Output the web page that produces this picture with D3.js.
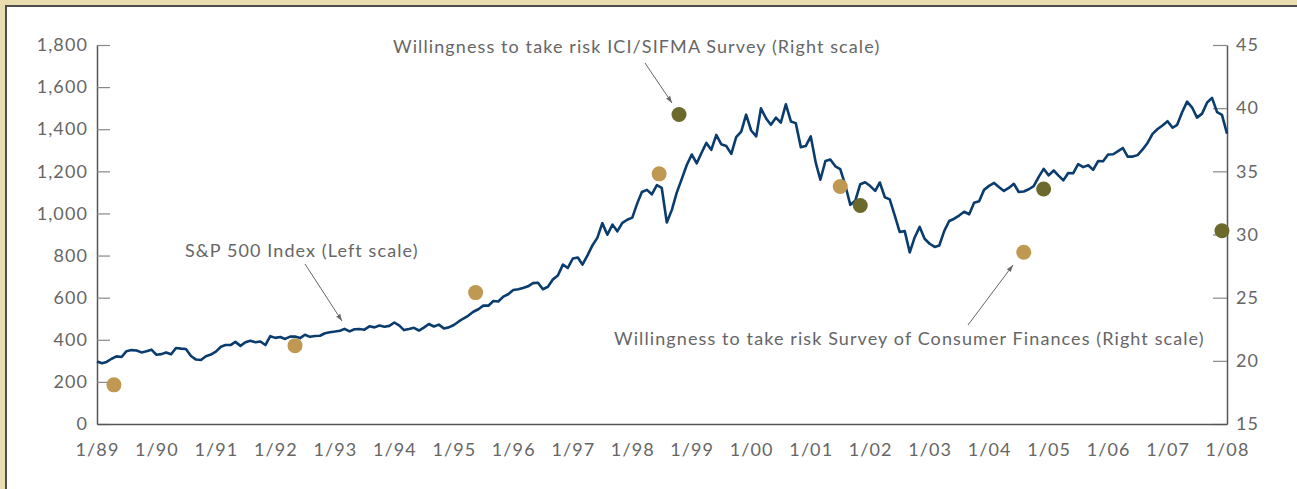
<!DOCTYPE html>
<html lang="en">
<head>
<meta charset="utf-8">
<script src="https://d3js.org/d3.v7.min.js"></script>
<style>
  body { margin: 0; background: #e9ddb0; }
  svg { display: block; }
  text { font-family: Lato, "Open Sans", sans-serif; fill: #666; letter-spacing: 1.1px; }
</style>
</head>
<body>
<script>

// S&P 500 month-end closes, Jan 1989 .. Jan 2008
var spx = [
  297, 289, 295, 310, 321, 318, 346, 351, 349, 340, 346, 353,
  329, 332, 340, 331, 361, 358, 356, 323, 306, 304, 322, 330,
  344, 367, 375, 375, 390, 371, 388, 395, 388, 392, 375, 417,
  409, 413, 404, 415, 415, 408, 424, 414, 418, 419, 431, 436,
  439, 443, 452, 440, 450, 451, 448, 464, 459, 468, 462, 466,
  482, 467, 446, 451, 457, 444, 458, 475, 463, 472, 454, 459,
  470, 487, 501, 515, 533, 545, 562, 562, 584, 582, 605, 616,
  636, 640, 646, 654, 669, 671, 640, 652, 687, 705, 757, 741,
  786, 791, 757, 801, 848, 885, 954, 899, 947, 915, 955, 970,
  980, 1049, 1102, 1112, 1091, 1134, 1121, 957, 1017, 1099, 1164, 1229,
  1280, 1238, 1286, 1335, 1302, 1373, 1329, 1320, 1283, 1363, 1389, 1469,
  1394, 1366, 1499, 1452, 1421, 1455, 1431, 1518, 1437, 1429, 1315, 1320,
  1366, 1240, 1160, 1249, 1256, 1224, 1211, 1134, 1041, 1060, 1139, 1148,
  1130, 1107, 1147, 1077, 1067, 990, 912, 916, 815, 886, 936, 880,
  856, 841, 848, 917, 964, 975, 990, 1008, 996, 1051, 1058, 1112,
  1131, 1145, 1126, 1107, 1121, 1141, 1102, 1104, 1115, 1130, 1174, 1212,
  1181, 1204, 1181, 1157, 1192, 1191, 1234, 1220, 1229, 1207, 1249, 1248,
  1280, 1281, 1295, 1311, 1270, 1270, 1277, 1304, 1336, 1378, 1401, 1418,
  1438, 1407, 1421, 1482, 1531, 1503, 1455, 1474, 1527, 1549, 1481, 1468,
  1379
];

// Survey of Consumer Finances (right scale)
var scfDates = ["1989-04-15", "1992-05-01", "1995-05-15", "1998-06-15", "2001-07-01", "2004-08-01"];
var scfValues = [18.1, 21.2, 25.4, 34.8, 33.8, 28.6];

// ICI/SIFMA survey (right scale)
var iciDates = ["1998-10-15", "2001-11-01", "2004-12-01", "2007-12-01"];
var iciValues = [39.5, 32.3, 33.6, 30.3];

var leftTicks = [0, 200, 400, 600, 800, 1000, 1200, 1400, 1600, 1800];
var rightTicks = [15, 20, 25, 30, 35, 40, 45];

var width = 1297, height = 489;
var plotLeft = 97, plotRight = 1227, plotTop = 45, plotBottom = 424;

var parseDay = d3.timeParse("%Y-%m-%d");
var spxData = spx.map(function(v, i) {
  return { date: new Date(1989, i, 1), value: v };
});

var svg = d3.select("body").append("svg")
  .attr("width", width)
  .attr("height", height);

// white panel with dark top/left rule
svg.append("rect")
  .attr("x", 5).attr("y", 5)
  .attr("width", width - 5).attr("height", height - 5)
  .attr("fill", "#fff");
svg.append("path")
  .attr("d", "M6," + height + "V6H" + width)
  .attr("fill", "none")
  .attr("stroke", "#4d4d4d")
  .attr("stroke-width", 2);

var x = d3.scaleTime()
  .domain([new Date(1989, 0, 1), new Date(2008, 0, 1)])
  .range([plotLeft, plotRight]);
var yL = d3.scaleLinear().domain([0, 1800]).range([plotBottom, plotTop]);
var yR = d3.scaleLinear().domain([15, 45]).range([plotBottom, plotTop]);

// axes
var axL = svg.append("g")
  .attr("transform", "translate(" + plotLeft + ",0)")
  .call(d3.axisLeft(yL).tickValues(leftTicks).tickFormat(d3.format(","))
    .tickSizeInner(-13).tickSizeOuter(0).tickPadding(9));
var axR = svg.append("g")
  .attr("transform", "translate(" + plotRight + ",0)")
  .call(d3.axisRight(yR).tickValues(rightTicks)
    .tickSizeInner(-14).tickSizeOuter(0).tickPadding(9));
var axB = svg.append("g")
  .attr("transform", "translate(0," + plotBottom + ")")
  .call(d3.axisBottom(x).ticks(d3.timeYear.every(1))
    .tickFormat(d3.timeFormat("1/%y"))
    .tickSize(0).tickPadding(19));

[axL, axR, axB].forEach(function(g) {
  g.selectAll("text").style("font-size", "18px").attr("fill", "#666")
    .style("font-family", "Lato, 'Open Sans', sans-serif");
  g.select(".domain").attr("stroke", "#555").attr("stroke-width", 1.5);
  g.selectAll(".tick line").attr("stroke", "#888").attr("stroke-width", 1.2);
});

// S&P line
var line = d3.line()
  .x(function(d) { return x(d.date); })
  .y(function(d) { return yL(d.value); });

svg.append("path")
  .datum(spxData)
  .attr("d", line)
  .attr("fill", "none")
  .attr("stroke", "#0b3c6e")
  .attr("stroke-width", 2.6)
  .attr("stroke-linejoin", "round");

// survey dots
svg.selectAll(".scf")
  .data(scfDates)
  .enter().append("circle")
  .attr("cx", function(d) { return x(parseDay(d)); })
  .attr("cy", function(d, i) { return yR(scfValues[i]); })
  .attr("r", 7.5)
  .attr("fill", "#bf9851");

svg.selectAll(".ici")
  .data(iciDates)
  .enter().append("circle")
  .attr("cx", function(d) { return x(parseDay(d)); })
  .attr("cy", function(d, i) { return yR(iciValues[i]); })
  .attr("r", 7.5)
  .attr("fill", "#6b6a2c");

// annotations
var defs = svg.append("defs");
defs.append("marker")
  .attr("id", "arr")
  .attr("viewBox", "0 0 10 10")
  .attr("refX", 10).attr("refY", 5)
  .attr("markerWidth", 7).attr("markerHeight", 7)
  .attr("orient", "auto")
  .append("path")
  .attr("d", "M0,1.5L10,5L0,8.5Z")
  .attr("fill", "#666");

var notes = [
  { text: "Willingness to take risk ICI/SIFMA Survey (Right scale)", tx: 393, ty: 53,
    from: [645, 63], to: [672, 103] },
  { text: "S&P 500 Index (Left scale)", tx: 185, ty: 257,
    from: [305, 264], to: [342, 321] },
  { text: "Willingness to take risk Survey of Consumer Finances (Right scale)", tx: 614, ty: 345,
    from: [968, 325], to: [1013, 265] }
];

notes.forEach(function(n) {
  svg.append("text")
    .attr("x", n.tx).attr("y", n.ty)
    .style("font-size", "18px")
    .text(n.text);
  svg.append("line")
    .attr("x1", n.from[0]).attr("y1", n.from[1])
    .attr("x2", n.to[0]).attr("y2", n.to[1])
    .attr("stroke", "#666")
    .attr("stroke-width", 1)
    .attr("marker-end", "url(#arr)");
});

</script>
</body>
</html>
